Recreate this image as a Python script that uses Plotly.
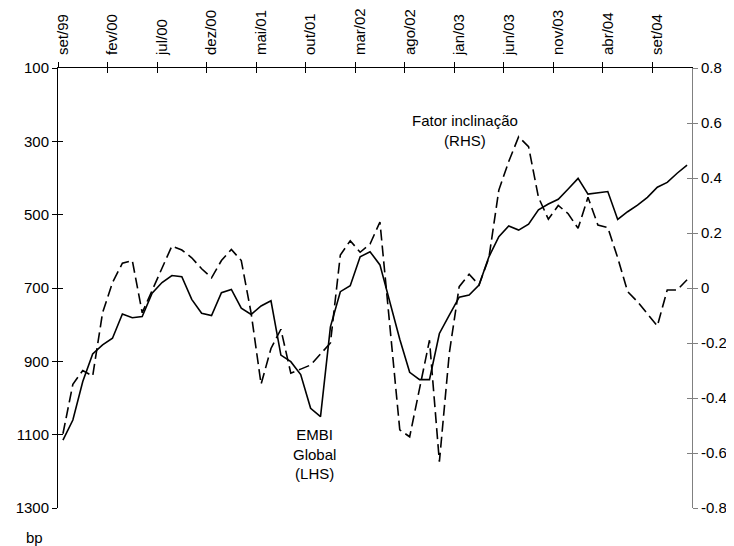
import plotly.graph_objects as go

# ---- data ----
month_names = ["jan", "fev", "mar", "abr", "mai", "jun", "jul", "ago", "set", "out", "nov", "dez"]
categories = [f"{month_names[(8 + i) % 12]}/{(1999 + (8 + i) // 12) % 100:02d}" for i in range(64)]
x_idx = list(range(len(categories)))

embi = [1115, 1060, 955, 880, 855, 837, 771, 781, 778, 714,
        685, 666, 669, 731, 769, 775, 713, 704, 755, 772,
        749, 735, 883, 901, 936, 1028, 1051, 806, 710, 694,
        615, 601, 637, 740, 840, 930, 950, 950, 824, 774,
        725, 719, 692, 615, 560, 531, 542, 526, 487, 471,
        458, 430, 401, 444, 440, 437, 513, 492, 474, 453,
        425, 412, 387, 365]

fator = [-0.53, -0.35, -0.30, -0.32, -0.09, 0.02, 0.09, 0.10, -0.09, -0.01,
         0.07, 0.153, 0.138, 0.11, 0.07, 0.037, 0.10, 0.14, 0.10, -0.092,
         -0.35, -0.22, -0.15, -0.31, -0.295, -0.28, -0.24, -0.20, 0.12, 0.172,
         0.13, 0.16, 0.24, -0.14, -0.516, -0.541, -0.37, -0.19, -0.632, -0.237,
         0.005, 0.05, 0.011, 0.11, 0.356, 0.46, 0.55, 0.514, 0.33, 0.25,
         0.30, 0.27, 0.217, 0.33, 0.229, 0.22, 0.11, -0.013, -0.05, -0.095,
         -0.138, -0.007, -0.007, 0.03]

tick_idx = x_idx[::5]
tick_labels = categories[::5]
left_ticks = [100, 300, 500, 700, 900, 1100, 1300]
right_ticks = [0.8, 0.6, 0.4, 0.2, 0, -0.2, -0.4, -0.6, -0.8]
right_tick_text = ["0.8", "0.6", "0.4", "0.2", "0", "-0.2", "-0.4", "-0.6", "-0.8"]

FONT = "Liberation Sans, Arial, sans-serif"
FS = 15
xr = [-0.5, len(categories) - 0.5]
boundaries = [i - 0.5 for i in tick_idx]

# the page body adds an 8px margin, so the figure is drawn at (8, 8)
W, H = 726, 538
L, R, T, B = 50.4, 42.3, 60, 38

fig = go.Figure()
fig.add_trace(go.Scatter(x=x_idx, y=embi, mode="lines", name="EMBI Global (LHS)",
                         line=dict(color="black", width=1.6), xaxis="x", yaxis="y"))
fig.add_trace(go.Scatter(x=x_idx, y=fator, mode="lines", name="Fator inclinação (RHS)",
                         line=dict(color="black", width=1.6, dash="11px,5px"), xaxis="x", yaxis="y2"))
# placeholder traces (no drawable point) so that the tick-only overlay axes get drawn
fig.add_trace(go.Scatter(x=[None], y=[None], mode="lines", xaxis="x2", yaxis="y3",
                         hoverinfo="skip", showlegend=False))
fig.add_trace(go.Scatter(x=[None], y=[None], mode="lines", xaxis="x3", yaxis="y4",
                         hoverinfo="skip", showlegend=False))

common = dict(showgrid=False, zeroline=False, automargin=False)

fig.update_layout(
    width=W, height=H,
    margin=dict(l=L, r=R, t=T, b=B, autoexpand=False),
    paper_bgcolor="white", plot_bgcolor="white",
    showlegend=False,
    font=dict(family=FONT, size=FS, color="black"),
    xaxis=dict(range=xr, side="top", showline=True, linecolor="black", linewidth=1,
               tickmode="array", tickvals=tick_idx, ticktext=tick_labels,
               ticks="", tickangle=-90, ticklabelstandoff=9,
               tickfont=dict(family=FONT, size=FS), **common),
    xaxis2=dict(range=xr, overlaying="x", side="top", anchor="y", showline=False,
                tickmode="array", tickvals=boundaries, tickwidth=1,
                ticks="outside", ticklen=5, tickcolor="black", showticklabels=False, **common),
    xaxis3=dict(range=xr, overlaying="x", side="top", anchor="y", showline=False,
                tickmode="array", tickvals=boundaries, tickwidth=1,
                ticks="inside", ticklen=5, tickcolor="black", showticklabels=False, **common),
    yaxis=dict(range=[1300, 100], showline=True, linecolor="black", linewidth=1,
               tickmode="array", tickvals=left_ticks, tickwidth=1,
               ticks="outside", ticklen=5, tickcolor="black", ticksuffix="  ",
               tickfont=dict(family=FONT, size=FS), **common),
    yaxis3=dict(range=[1300, 100], overlaying="y", side="left", anchor="x", showline=False,
                tickmode="array", tickvals=left_ticks, tickwidth=1,
                ticks="inside", ticklen=5, tickcolor="black", showticklabels=False, **common),
    yaxis2=dict(range=[-0.8, 0.8], overlaying="y", side="right", anchor="x",
                showline=True, linecolor="#808080", linewidth=1,
                tickmode="array", tickvals=right_ticks, ticktext=right_tick_text, tickwidth=1,
                ticks="outside", ticklen=5, tickcolor="#808080",
                tickfont=dict(family=FONT, size=FS), **common),
    yaxis4=dict(range=[-0.8, 0.8], overlaying="y", side="right", anchor="x", showline=False,
                tickmode="array", tickvals=right_ticks, tickwidth=1,
                ticks="inside", ticklen=5, tickcolor="#808080", showticklabels=False, **common),
)

plot_w = W - L - R
plot_h = H - T - B
fig.add_annotation(text="Fator inclinação<br>(RHS)", x=40.6, y=0.571, xref="x", yref="y2",
                   showarrow=False, align="center", font=dict(family=FONT, size=FS))
fig.add_annotation(text="EMBI<br>Global<br>(LHS)", x=25.4, y=1152, xref="x", yref="y",
                   showarrow=False, align="center", yanchor="middle",
                   font=dict(family=FONT, size=FS))
fig.add_annotation(text="bp", x=(27 - L) / plot_w, y=(H - B - 529) / plot_h,
                   xref="paper", yref="paper",
                   xanchor="center", yanchor="middle", showarrow=False,
                   font=dict(family=FONT, size=FS))

fig.write_html("out.html")
